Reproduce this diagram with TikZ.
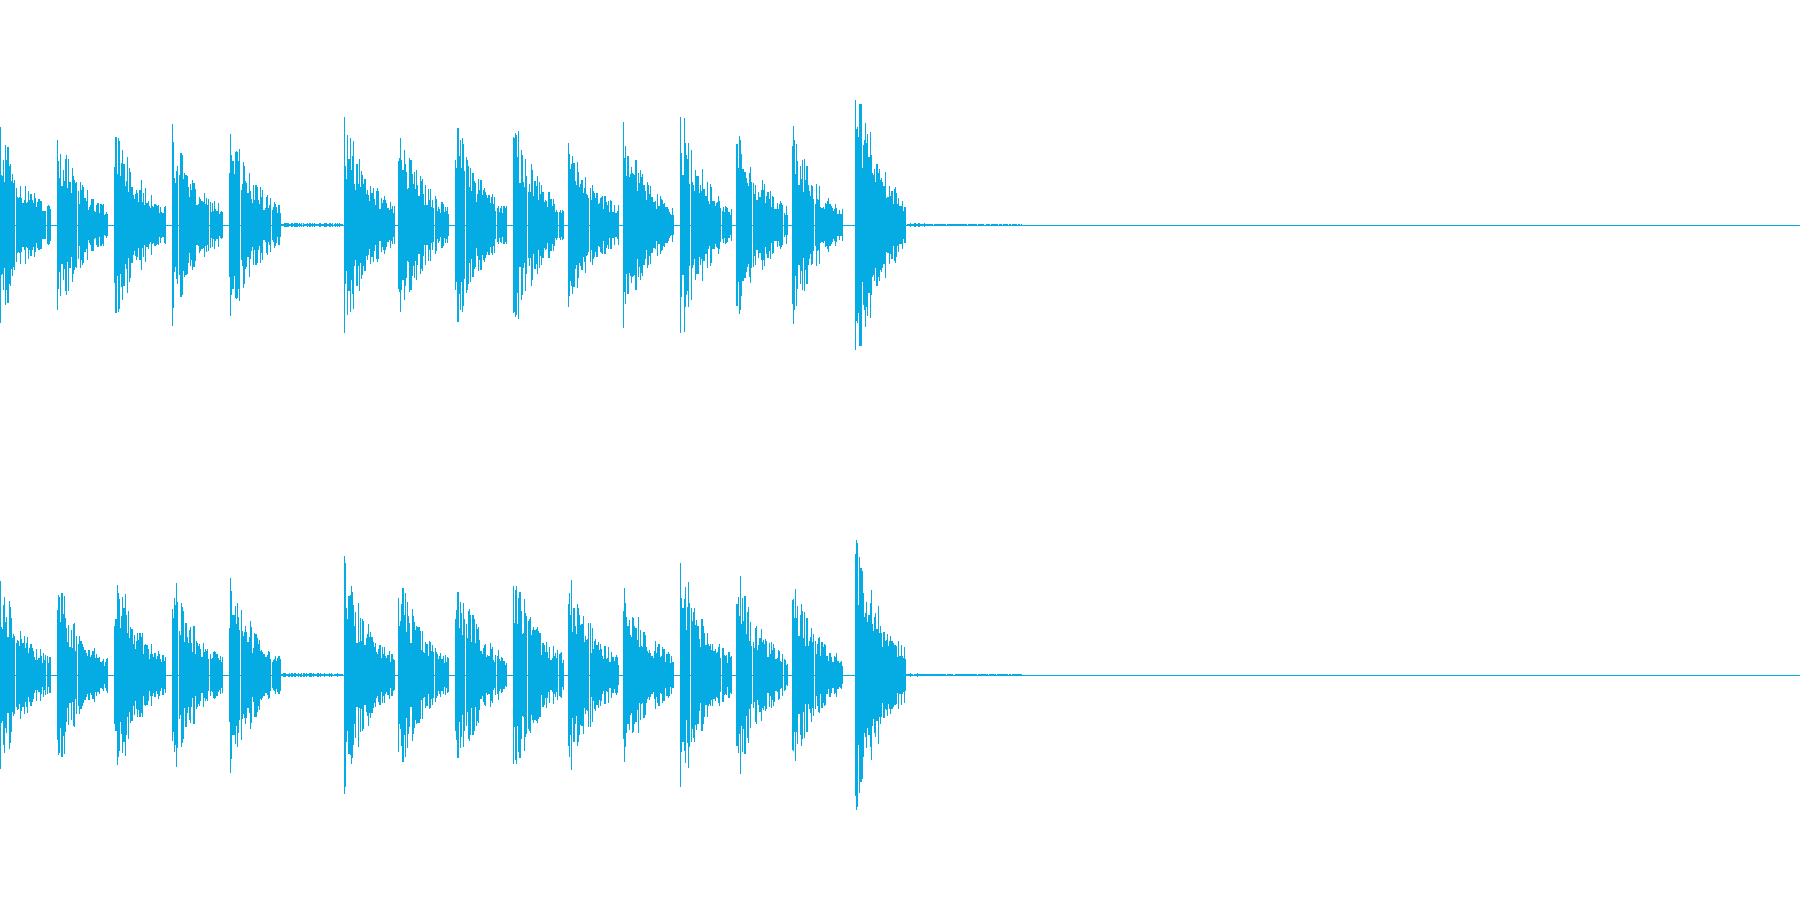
\documentclass[tikz,border=0pt]{standalone}
\usepackage{tikz}
\definecolor{wavecyan}{RGB}{5,171,227}
\tikzset{
	% one sample stroke of the waveform
	wave/.style={draw=wavecyan,line width=0.32pt}
}

\begin{document}
\begin{tikzpicture}[x=0.01148cm,y=-0.01148cm]
\pgfmathsetseed{7}
\useasboundingbox (0,0) rectangle (1568,784);

% two channels, centre lines at y=196 and y=588
\foreach \cy in {196,588}{
	% silent base line
	\draw[wave,line width=0.25pt] (0,\cy) -- (1568,\cy);
	% hits: start/peak amplitude
	\foreach \bx/\amp in {0/90,50/86,100/100,150/92,200/96,300/102,347/95,397/96,447/104,495/95,543/93,593/106,642/96,690/88,745/136}{
		\foreach \i in {0,...,44}{
			\pgfmathsetmacro{\h}{\amp*exp(-\i/24)*(0.4+0.6*rnd)+2}
			\draw[wave] (\bx+\i,\cy-\h) -- (\bx+\i,\cy+\h);
		}
	}
	% faint tails
	\foreach \i in {240,...,298}{
		\pgfmathsetmacro{\h}{0.6+1.2*rnd}
		\draw[wave] (\i,\cy-\h) -- (\i,\cy+\h);
	}
	\foreach \i in {790,...,890}{
		\pgfmathsetmacro{\h}{0.4+1.4*rnd*exp(-(\i-790)/60)}
		\draw[wave] (\i,\cy-\h) -- (\i,\cy+\h);
	}
}

\end{tikzpicture}
\end{document}
